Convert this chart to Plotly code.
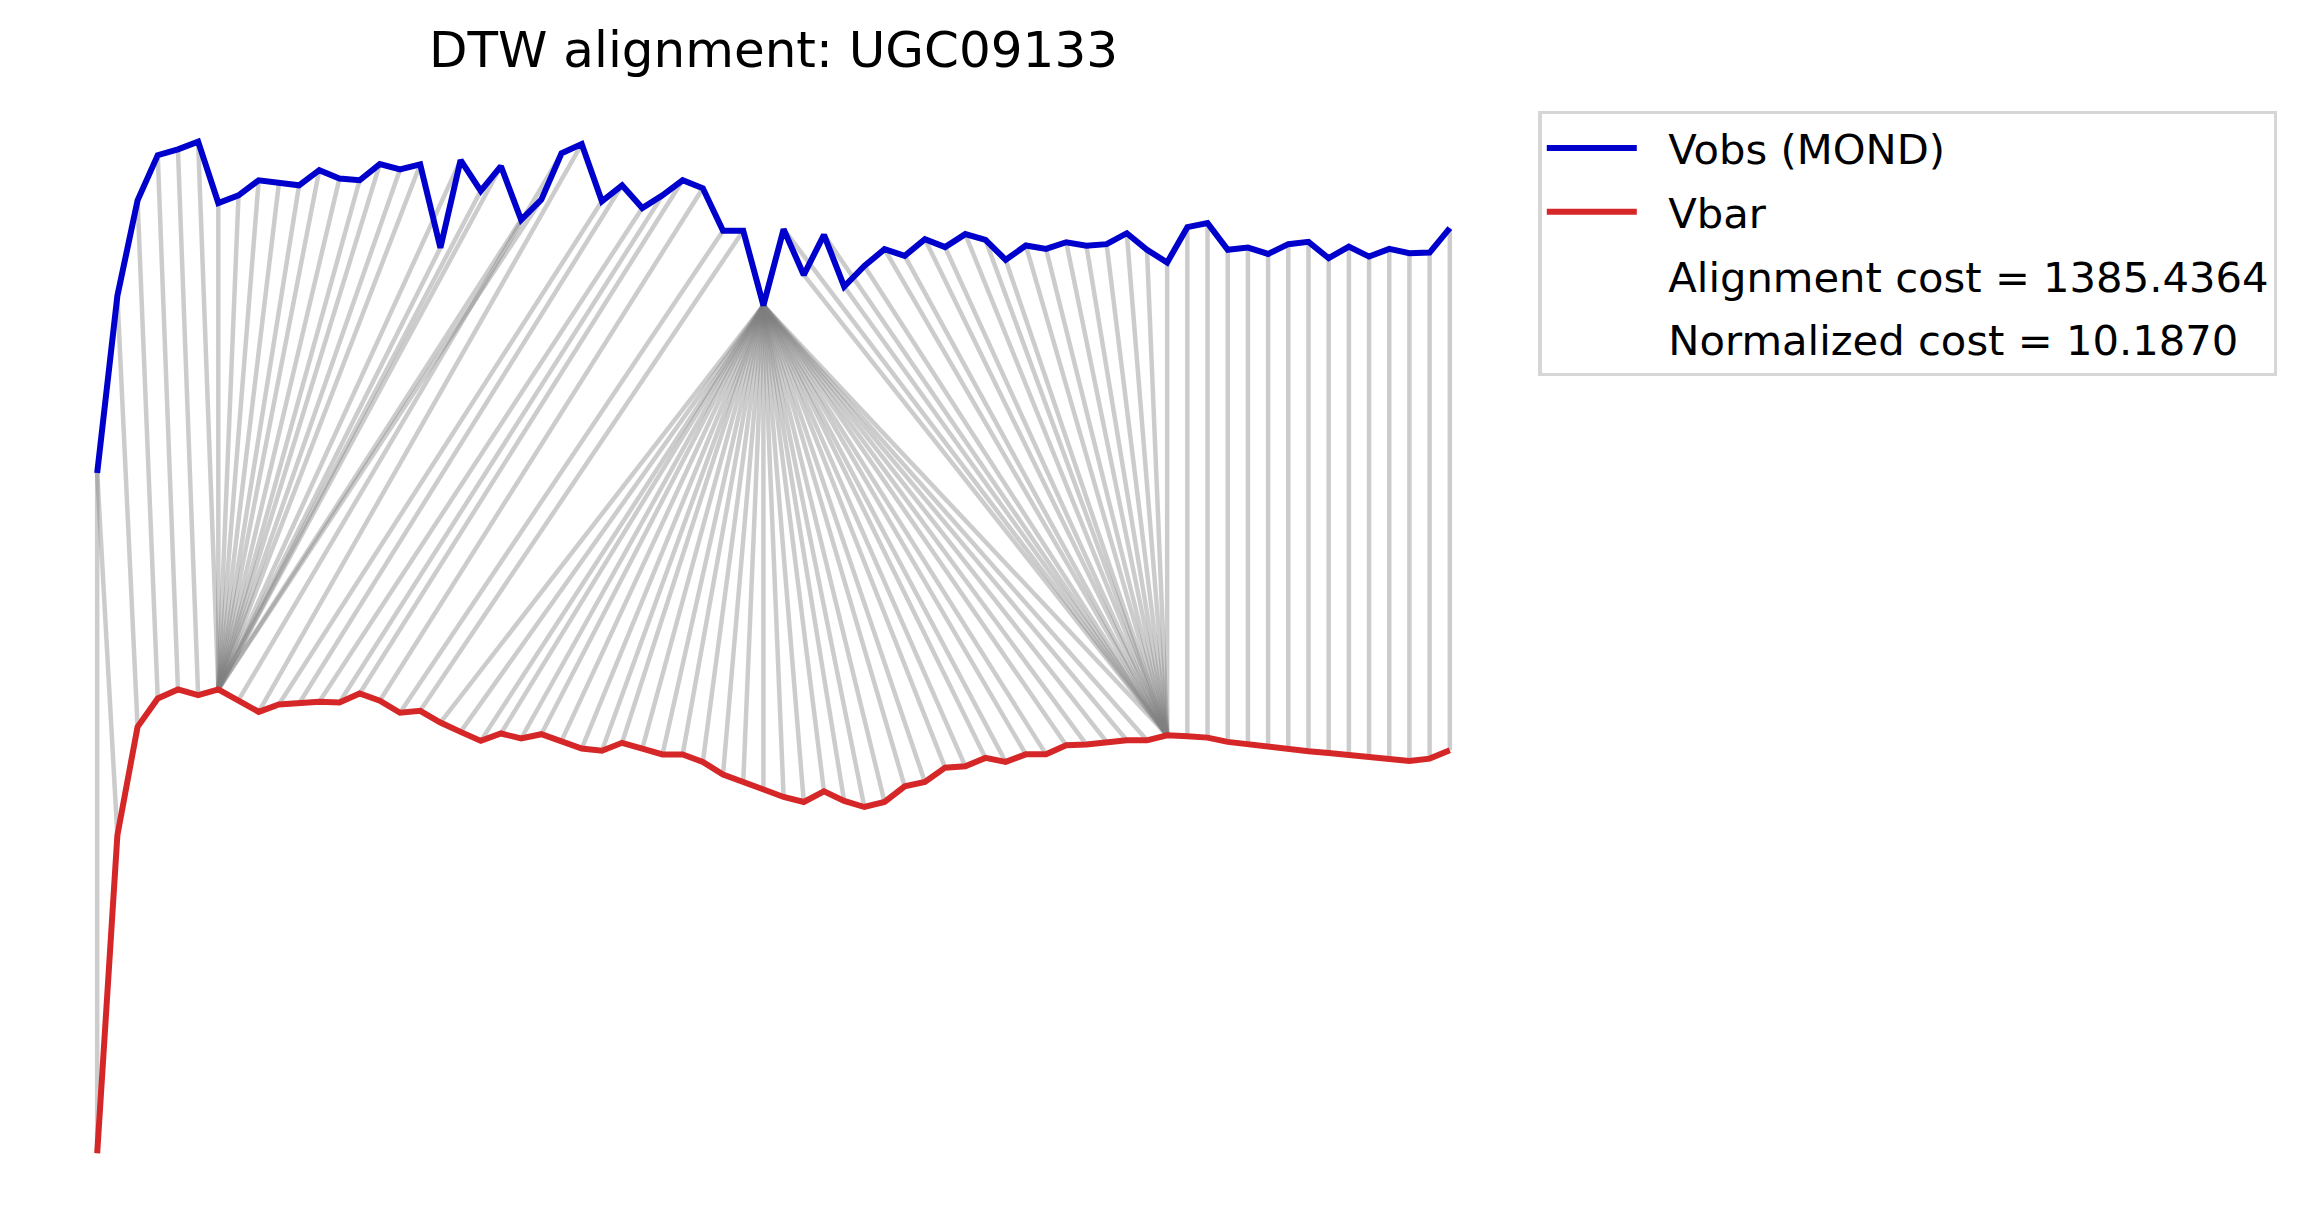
import plotly.graph_objects as go

# Vobs (MOND) curve (arbitrary vertical units, offset display)
vobs = [480.0, 599.8, 664.3, 694.9, 698.8, 704.0, 662.5, 667.7, 677.9, 675.7,
        674.5, 684.7, 679.1, 677.9, 688.8, 685.2, 688.6, 632.2, 691.5, 670.7,
        687.4, 651.2, 664.8, 696.1, 702.4, 663.7, 674.5, 659.1, 667.7, 677.9,
        672.5, 643.8, 643.8, 593.3, 644.8, 613.9, 641.0, 606.1, 620.0, 631.3,
        626.8, 638.1, 632.7, 641.5, 637.6, 624.1, 633.8, 631.5, 636.0, 633.6,
        634.7, 642.1, 630.9, 622.3, 646.2, 648.9, 630.9, 632.4, 628.1, 634.7,
        636.3, 625.2, 633.1, 626.3, 631.5, 628.6, 629.0, 645.5]

# Vbar curve
vbar = [20.1, 235.1, 308.4, 327.6, 333.7, 329.8, 333.7, 326.4, 318.5, 323.5,
        324.2, 325.3, 324.9, 330.9, 326.0, 317.9, 319.2, 311.3, 305.0, 298.9,
        303.9, 300.5, 303.4, 298.9, 293.7, 292.2, 297.6, 293.7, 289.7, 289.7,
        284.7, 276.2, 271.0, 266.5, 261.0, 257.6, 264.8, 258.3, 254.2, 257.6,
        268.2, 271.1, 280.8, 281.7, 287.4, 284.7, 289.8, 289.8, 295.9, 296.4,
        298.2, 299.3, 299.3, 302.7, 302.0, 301.1, 298.2, 296.6, 294.1, 293.2,
        291.9, 290.7, 289.2, 288.0, 285.8, 285.3, 286.9, 292.5]

# DTW warping path: index into vobs, index into vbar
path_obs = [0, 0, 1, 2, 3, 4, 5,
            6, 7, 8, 9, 10, 11, 12, 13, 14, 15, 16, 17, 18, 19, 20, 21, 22,
            23, 24, 25, 26, 27, 28, 29, 30, 31, 32, 33,
            33, 33, 33, 33, 33, 33, 33, 33, 33, 33, 33, 33, 33, 33, 33, 33, 33, 33,
            33, 33, 33, 33, 33, 33, 33, 33, 33, 33, 33, 33, 33, 33, 33, 33, 33, 33,
            34, 35, 36, 37, 38, 39, 40, 41, 42, 43, 44, 45, 46, 47, 48, 49, 50, 51, 52, 53,
            54, 55, 56, 57, 58, 59, 60, 61, 62, 63, 64, 65, 66, 67]
path_bar = [0, 1, 2, 3, 4, 5, 6,
            6, 6, 6, 6, 6, 6, 6, 6, 6, 6, 6, 6, 6, 6, 6, 6, 6,
            7, 8, 9, 10, 11, 12, 13, 14, 15, 16, 17,
            18, 19, 20, 21, 22, 23, 24, 25, 26, 27, 28, 29, 30, 31, 32, 33, 34, 35,
            36, 37, 38, 39, 40, 41, 42, 43, 44, 45, 46, 47, 48, 49, 50, 51, 52, 53,
            53, 53, 53, 53, 53, 53, 53, 53, 53, 53, 53, 53, 53, 53, 53, 53, 53, 53, 53, 53,
            54, 55, 56, 57, 58, 59, 60, 61, 62, 63, 64, 65, 66, 67]

galaxy = "UGC09133"
alignment_cost = 1385.4364
normalized_cost = 10.1870

FONT = "DejaVu Sans"
BLUE = "#0000cd"
RED = "#d62728"
GREY = "rgba(128,128,128,0.4)"
PAD = "\u00a0\u00a0"  # gap between legend handle and label

fig = go.Figure()

# alignment connectors (each its own trace so overlaps darken as in the original)
for i, j in zip(path_obs, path_bar):
    fig.add_trace(go.Scatter(
        x=[i, j], y=[vobs[i], vbar[j]], mode="lines",
        line=dict(color=GREY, width=4.5),
        hoverinfo="skip", showlegend=False))

fig.add_trace(go.Scatter(x=list(range(len(vobs))), y=vobs, mode="lines",
                         name=PAD + "Vobs (MOND)",
                         line=dict(color=BLUE, width=6), legendgroup="a"))
fig.add_trace(go.Scatter(x=list(range(len(vbar))), y=vbar, mode="lines",
                         name=PAD + "Vbar",
                         line=dict(color=RED, width=6), legendgroup="b"))
fig.add_trace(go.Scatter(x=[None], y=[None], mode="lines",
                         name=PAD + f"Alignment cost = {alignment_cost:.4f}",
                         line=dict(color="rgba(0,0,0,0)", width=6), legendgroup="c"))
fig.add_trace(go.Scatter(x=[None], y=[None], mode="lines",
                         name=PAD + f"Normalized cost = {normalized_cost:.4f}",
                         line=dict(color="rgba(0,0,0,0)", width=6), legendgroup="d"))

W, H = 2302, 1215          # page body has an 8px margin
L, T = 69.4, 110.3
PW, PH = 1393.1, 1064.4
fig.update_layout(
    width=W, height=H,
    margin=dict(l=L, r=W - L - PW, t=T, b=H - T - PH, pad=0),
    paper_bgcolor="white", plot_bgcolor="white",
    font=dict(family=FONT, color="black"),
    title=dict(text=f"DTW alignment: {galaxy}", x=0.5, xref="paper",
               y=1 - 41.7 / H, yref="container", xanchor="center", yanchor="middle",
               font=dict(family=FONT, size=50, color="black")),
    xaxis=dict(visible=False, range=[-1, 68]),
    yaxis=dict(visible=False, range=[0, 720]),
    showlegend=True,
    legend=dict(x=(1531 - L) / PW, y=1 - (103.5 - T) / PH, xanchor="left", yanchor="top",
                bgcolor="white", bordercolor="#d6d6d6", borderwidth=3.3,
                font=dict(family=FONT, size=41.7, color="black"),
                tracegroupgap=6.4, itemwidth=90, traceorder="grouped"),
)

fig.write_html("out.html")
